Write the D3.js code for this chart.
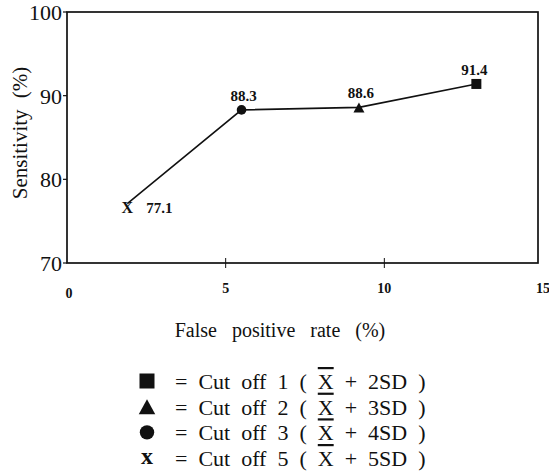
<!DOCTYPE html>
<html>
<head>
<meta charset="utf-8">
<script src="https://cdn.jsdelivr.net/npm/d3@7"></script>
<style>
  body { margin: 0; background: #fff; }
</style>
</head>
<body>
<div id="chart"></div>
<script>
// data
var falsePositive = [1.9, 5.5, 9.2, 12.9];
var sensitivity = [77.1, 88.3, 88.6, 91.4];
var markers = ["x", "circle", "triangle", "square"];
var xTicks = [0, 5, 10, 15];
var yTicks = [70, 80, 90, 100];
var legendMarkers = ["square", "triangle", "circle", "x"];
var legendCut = ["1", "2", "3", "5"];
var legendSD = ["2SD", "3SD", "4SD", "5SD"];

var W = 549, H = 472;
var margin = {top: 12, left: 67, plotRight: 538, bottom: 263};

var svg = d3.select("#chart").append("svg")
    .attr("width", W)
    .attr("height", H)
    .style("font-family", "'Liberation Serif', 'DejaVu Serif', serif")
    .style("fill", "#111");

var x = d3.scaleLinear().domain([0, 15]).range([margin.left, 543]);
var y = d3.scaleLinear().domain([70, 100]).range([margin.bottom, margin.top]);

// frame
svg.append("rect")
    .attr("x", margin.left)
    .attr("y", margin.top)
    .attr("width", margin.plotRight - margin.left)
    .attr("height", margin.bottom - margin.top)
    .attr("fill", "none")
    .attr("stroke", "#111")
    .attr("stroke-width", 1.7);

// y ticks + labels
svg.selectAll(".ytick").data(yTicks).enter().append("line")
    .attr("x1", margin.left - 4).attr("x2", margin.left)
    .attr("y1", d => y(d)).attr("y2", d => y(d))
    .attr("stroke", "#111").attr("stroke-width", 1.2);

svg.selectAll(".ylab").data(yTicks).enter().append("text")
    .attr("x", margin.left - 5)
    .attr("y", d => y(d) + 8)
    .attr("text-anchor", "end")
    .style("font-size", "22px")
    .text(d => d);

// x ticks (only inner ones crossing the axis) + labels
svg.selectAll(".xtick").data(xTicks.filter(d => d > 0 && d < 15)).enter().append("line")
    .attr("x1", d => x(d)).attr("x2", d => x(d))
    .attr("y1", margin.bottom - 5).attr("y2", margin.bottom + 5)
    .attr("stroke", "#111").attr("stroke-width", 1);

svg.selectAll(".xlab").data(xTicks).enter().append("text")
    .attr("x", d => x(d) + (d == 0 ? 2 : 0))
    .attr("y", d => d == 0 ? 298 : 293)
    .attr("text-anchor", "middle")
    .style("font-size", "14px")
    .style("font-weight", "bold")
    .text(d => d);

// axis titles
svg.append("text")
    .attr("transform", "translate(27,133) rotate(-90)")
    .attr("text-anchor", "middle")
    .style("font-size", "21px")
    .style("word-spacing", "6px")
    .text("Sensitivity (%)");

svg.append("text")
    .attr("x", 280)
    .attr("y", 337)
    .attr("text-anchor", "middle")
    .style("font-size", "20px")
    .style("word-spacing", "10px")
    .text("False positive rate (%)");

// line
var pts = falsePositive.map((d, i) => ({fp: d, se: sensitivity[i], m: markers[i]}));
svg.append("path")
    .datum(pts)
    .attr("fill", "none")
    .attr("stroke", "#111")
    .attr("stroke-width", 1.6)
    .attr("d", d3.line().x(d => x(d.fp)).y(d => y(d.se)));

function drawMarker(g, type, cx, cy, s) {
  if (type == "circle") {
    g.append("circle").attr("cx", cx).attr("cy", cy).attr("r", s * 0.48).attr("fill", "#111");
  } else if (type == "square") {
    g.append("rect").attr("x", cx - s / 2).attr("y", cy - s / 2).attr("width", s).attr("height", s).attr("fill", "#111");
  } else if (type == "triangle") {
    g.append("path")
      .attr("d", "M0," + (-s / 2) + "L" + (s * 0.55) + "," + (s / 2) + "L" + (-s * 0.55) + "," + (s / 2) + "Z")
      .attr("transform", "translate(" + cx + "," + cy + ")")
      .attr("fill", "#111");
  } else {
    g.append("text").attr("x", cx).attr("y", cy + s * 0.4).attr("text-anchor", "middle")
      .style("font-size", (s * 1.6) + "px").style("font-weight", "bold").text("x");
  }
}

pts.forEach(function(d) {
  if (d.m == "x") {
    svg.append("text").attr("x", x(d.fp)).attr("y", y(d.se) + 9.5).attr("text-anchor", "middle")
      .style("font-size", "16px").style("font-weight", "bold").text("X");
  } else {
    drawMarker(svg, d.m, x(d.fp), y(d.se), 10);
  }
});

// value labels
svg.selectAll(".vlab").data(pts).enter().append("text")
    .attr("x", d => d.m == "x" ? x(d.fp) + 19 : x(d.fp) + (d.m == "square" ? -2 : 2))
    .attr("y", d => d.m == "x" ? y(d.se) + 9.5 : y(d.se) - 9)
    .attr("text-anchor", d => d.m == "x" ? "start" : "middle")
    .style("font-size", "15px")
    .style("font-weight", "bold")
    .text(d => d.se.toFixed(1));

// legend
var rowY = d3.scaleLinear().domain([0, 3]).range([381, 458]);
legendMarkers.forEach(function(m, i) {
  var cy = rowY(i);
  drawMarker(svg, m, 147, cy, 15);
  var t = svg.append("text")
    .attr("x", 175)
    .attr("y", cy + 8)
    .style("font-size", "22px")
    .style("white-space", "pre");
  t.append("tspan").text("=  Cut  off  " + legendCut[i] + "  (  ");
  t.append("tspan").style("text-decoration", "overline").text("X");
  t.append("tspan").text("  +  " + legendSD[i] + "  )");
});
</script>
</body>
</html>
